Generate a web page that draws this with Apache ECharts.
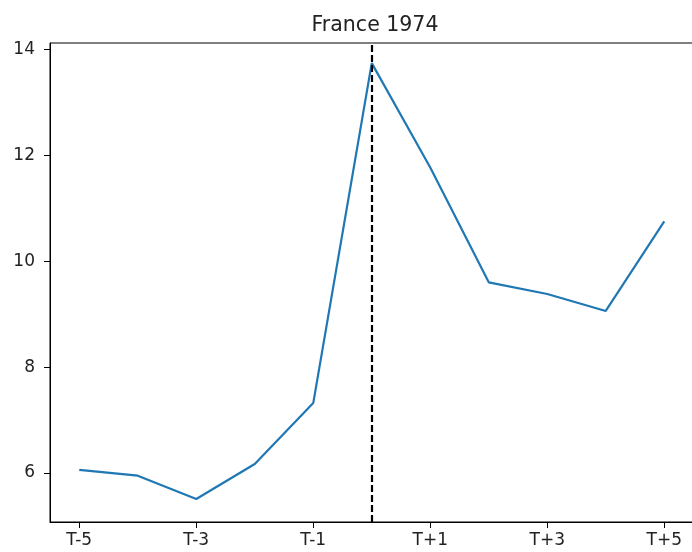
<!DOCTYPE html>
<html>
<head>
<meta charset="utf-8">
<script src="https://cdn.jsdelivr.net/npm/echarts@6/dist/echarts.min.js"></script>
<style>html,body{margin:0;padding:0;background:#fff;overflow:hidden;}#c{width:700px;height:552px;}</style>
</head>
<body>
<div id="c"></div>
<script>
const categories = ['T-5','T-4','T-3','T-2','T-1','T0','T+1','T+2','T+3','T+4','T+5'];
const values = [6.06, 5.95, 5.51, 6.17, 7.32, 13.74, 11.77, 9.60, 9.38, 9.06, 10.75];
const yTicks = [6, 8, 10, 12, 14];
const eventCategory = 'T0';
const titleText = 'France 1974';

const chart = echarts.init(document.getElementById('c'), null, {renderer: 'canvas'});
const font = 'DejaVu Sans';
chart.setOption({
  animation: false,
  title: {
    text: titleText, left: 370, top: 10, textAlign: 'center',
    textStyle: {fontFamily: font, fontSize: 20.5, fontWeight: 'normal', color: '#222'}
  },
  grid: {left: 50, right: 6.5, top: 43, bottom: 30, show: true, borderColor: '#000', borderWidth: 1, containLabel: false},
  xAxis: {
    type: 'category', data: categories, boundaryGap: true,
    axisLine: {lineStyle: {color: '#000', width: 1}},
    axisTick: {show: true, alignWithLabel: true, interval: 1, length: 6, lineStyle: {color: '#000'}},
    axisLabel: {interval: 1, color: '#222', fontFamily: font, fontSize: 17, margin: 10},
    splitLine: {show: false}
  },
  yAxis: {
    type: 'value', min: 5.075, max: 14.12,
    axisLine: {show: true, lineStyle: {color: '#000', width: 1}},
    axisTick: {show: true, length: 6, lineStyle: {color: '#000'}, customValues: yTicks},
    axisLabel: {color: '#222', fontFamily: font, fontSize: 17, margin: 15, customValues: yTicks},
    splitLine: {show: false}
  },
  series: [{
    type: 'line', data: values, symbol: 'none',
    lineStyle: {color: '#1f77b4', width: 2.2},
    markLine: {
      symbol: 'none', silent: true, label: {show: false},
      lineStyle: {color: '#000', type: [7, 3], width: 2.2},
      data: [{xAxis: eventCategory}]
    }
  }]
});
</script>
</body>
</html>
